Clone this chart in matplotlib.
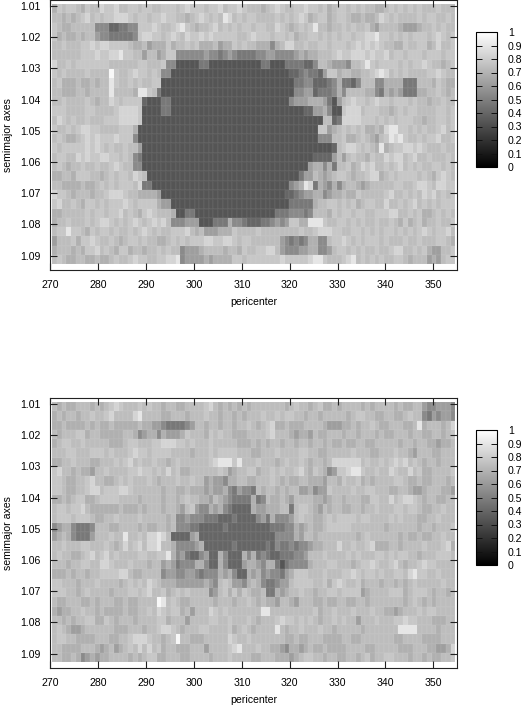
import numpy as np
import matplotlib
matplotlib.use("Agg")
import matplotlib.pyplot as plt

# Grey level of each cell: one hex digit per cell,
# rows from semimajor axis 1.009 downward, columns from pericenter 270 to 354.
upper_rows = [
"acbcc bacbb dccdb bccbc cbbcc cbcdc ccbcc dbccd cbbba bcdcb bccdc cbcab ccbcb cbbaa bcbcb cbcbb bcbbb",
"bbaba bcdbc bccdd dcbcc bccdc cbbab cdcbc bedbc bccbb bbcbc bcdca bccab ccbaa baabd cbcbb bbcbc cbbcb",
"cbaab bbbb8 88667 788cc cdcbb cdecb abbcd bcbcb ccbcc bbdcb abcbc ebbab bcbcb bca9b bbba9 99abb cbcbb",
"cabaa babb9 88777 778cd dccbc dcbdc cdcdc ccccb bcdcc cbccb cabbc cbcbc bccbc cddec cbcbc bcccb cdcbc",
"bbcbb bccdc ddccc cbaab 9aaac abbcb caaab 9aacb cbbaa a8abd dbbcb bccbc ccbcd cdcdc bbaac bbcca bdbbc",
"bbbbb bcccd ccdde ccbb9 bb9ac c8888 88988 78987 77788 99888 89a9a abbbc dccdd dcdcc dbccb cccbc ccbcc",
"dbbcb ccccc ccbbb bbbcc bbbc8 85555 57755 55555 55557 75557 77766 8bba9 998bb cecbc cccbc bccdc bbabc",
"cbcbb bbcbb bbfcb bcdcc bcb88 55555 55555 55555 55555 55555 66787 769cc abbaa bbcde dbcbc bbbbc cdcbb",
"bcaaa baaba bbecb bcbcb bcc55 55555 55555 55555 55555 55555 57788 66678 a7768 bbb88 aaaa7 77bbb acbaa",
"bbaaa bbabb bbebb bbaee cb755 55555 55555 55555 55555 55555 58899 67778 a8bbb baa87 a9a97 77aab bcbab",
"bbcbb bbcba bbdcb cccc6 55577 55555 55555 55555 55555 55555 8999a aa975 9bcdc cbcdc cbccc bcbba bbcbb",
"cccbb bbccb bbbcd dddc5 55577 55555 55555 55555 55555 55555 55566 99a85 5cddd bcccb babcb ccbbb bccbc",
"bdcbc bbcbb bcccd dddc5 55555 55555 55555 55555 55555 55555 55555 55bb6 7dddd cccbc bcbcc cbbab bccbc",
"cbbcb cddcc bbbbc cca55 55555 55555 55555 55555 55555 55555 55555 5cc9a bcbcb caaba deecc bcbcb bcdbc",
"bcbaa bcdcd cccdc cc855 55555 55555 55555 55555 55555 55555 55555 5888b bcaab cba9b cedec bbcbc cdbbc",
"cbccc ccdcd cbcbb cbb95 55555 55555 55555 55555 55555 55555 55555 55556 bcddc bcbae abccd dcdcb bbcbb",
"bccbb dcdcc ddccb cb875 55555 55555 55555 55555 55555 55555 55555 66669 b9bcb bacbb dcddb cdbbc bbbcb",
"bcbab bcbbc bbcdc bb885 55555 55555 55555 55555 55555 55555 55559 aa8a7 bbcab dcdbb cbcdb cbcbb ccbcb",
"aabba cccbb abcbc cbdcb 55555 55555 55555 55555 55555 55555 55799 ba9ab ccbab bcdda bcbcc ccbcb acdcb",
"bbaaa abaab cbcbc ccbd7 75555 55555 55555 55555 55555 55555 89aed 7a98a 8abba 9abbb bbccb bcddc bddcc",
"dccba bbbab bcddd cbbaa aa955 55555 55555 55555 55555 55556 67899 aa89a abaac bbbbb cdbbc bcbdc dbcbc",
"cdbbc baccb cbccc dcbcc cca99 55555 55555 55555 55555 55555 77777 abbcc bcbca bccbb dbbcb cdbcb cbccc",
"aabbb bbcbc cbccd bcbac dcbbb a5577 55555 55555 55555 55777 88878 bbbac bccbc cbbcc cddbb cbcaa bcbcb",
"abbcb bbcbc ddcbc bcdcb cdcdb 88899 95557 77a88 76667 78989 ccaae eecbb ccbcb cbbcb bcbac abcab bcbbc",
"bccec cbacb ccbcb bcbcd cbcbb cccdb ab999 aaacb bbbcb bbbbb bbcbb cdddc cbbcc bcbcb ccbcb cbcdc bccdb",
"9bbbc accdc bbcba bccbc bbaab cbcbc ccddc cddcb ccbbb bbb98 7878a a88bc cdcbc bcccb cbbbc bbcbb bccba",
"abbba baccd bcbac cabba bbcbc bb899 9abbb babba cbbcc ddb98 8899a a889b ccbcb cbbcb bcddb bcbca 99bbc",
"bcbaa bbaab aabcb bcdcc bbccd de899 99a9a aaacc bcccc cccdc ccccd eecbb bcdeb cbcbc bbccb abbb9 a9bcc",
]

lower_rows = [
"babaa bbbab abcdc bbbcb cbbab baabb bbcdb ababa babbb bbbba bcbba bcaab abbbb ababb bbaba abb98 89998",
"ababb abbcb bcdbb bbdeb bbbaa bbbab bbcbb abbab abbbc bbcbc cbbab babbb bbabc cbbaa bbaab cbb87 98998",
"aabaa aabab aabaa aaaba a9987 77789 bbabb abbab bcbab cdaab aaabb bba99 9aaba bbcba abbba abeab bbabd",
"babbb ccabb aaaaa bba89 aa8a9 99acb bbacb cbbaa abbbb cdbbb a9aa9 baabb babba bbbab aabbb abbaa bbabc",
"abccb bcbbb bbaaa bccbb bccdd dccbc bbbcb bbbba aabab abbab babba bbaba abaab baabb bbbab babba a9aab",
"bbbcc bbbcc cbcbb bcdcc bcccc bbbba bbbcb ccccb bbaab bbcbb bbccb baabb bbbcb bbaab bbcbb a9bbb aabbb",
"aabbc bbbaa bbbcb cdbcb bcbba bcbbb bbbcd eeece bbbcb bbabc bbcba bbabd ddddd bcbbc bcdcd bcbab babbb",
"cdbba baa9b bcbbb bccdc cbcbd bcaab bbbbb cb9ab bccab bcbcb bcdba cba89 ccdee cbbcb bdcbb dbcaa bbbbc",
"ccbaa bbcdb baabc bcbbb cbabb bcbbc bb9a9 98aab baabb bcbab aabba aa9bb acbbc ababb bbccb aabaa bbbab",
"ccbaa bbcdd bcccd dcbbb bbbab baaba aa9a9 9a879 887ba bbaba bb99a 899cb bbbcb bccbb baabb a99ab bbaa9",
"aabab ccaab ccccb bbbab bbbab babcb baa9b a9877 77a78 baaba 9bbbb aa9ab babbb aaccb bdbcd dcbab baabb",
"bccbc cdbaa aaaab aaaba bbbab ba9bc 988a9 a8766 66a99 aaabb 7bccb a9bab baabb abbcb bbccb ccbaa bbcbb",
"bcccb cccba abbcb bbbcb bbbba b8898 88777 66676 66689 7a888 9bcbb aabcb ccccb ccbbb bcbcb bbaab bcbbb",
"89aa8 7778b bbaab bbbab aabba b8887 76666 67666 66666 67778 8a9ab aabcc cccbb bbbbb abbbb bbabb abbbc",
"9aba8 7779b bbcbb ebbcb ddedb 66669 a6666 66666 66666 66888 8a9bb abbbb bbbba bcbbb bbbab aabaa bbcbb",
"bbcbb bccbb bcbab dbcdb ddebb a8888 9a666 66676 66666 76877 87889 aabbb dbbcb bcdaa abbab bbbcb bbcda",
"bcbba abcdb cdbcb bbbcc bbcce a8976 68966 a8666 a8a78 76677 7889b bbcbb bbcbc bbbcc bcbcc bbabb bcccb",
"bbbab bccbb ddcbb bcbbb abb9a 97888 aa866 a8666 9aa98 aa757 8888a bbbcc bbbab ccdcb bcdba bbcdc cbbbb",
"aaaba bbabb ccccd dbaab bbb89 98899 87888 a9a86 6a9a8 98879 acccb bbcbb bccdc bccbc bbccb deccb bcbbb",
"ccbbb abbbc bbbba bcbcb dcbaa a9999 99a98 bcb99 8aba8 77899 bcccc bbcac dcbbc abbba bbaba bcbbb bbcbb",
"cccbb abcbb bbabb bccbc dbbca bcbcb bbb89 bcaca cbaab 77a9a bbcbb abbcc bcccc 9abbb bccca bcccb abbab",
"baabb baaba bbbaa baabb bbfeb cbaab bbbba bbbab bcbab aa9bb a9bbb aabaa bbaab babbb bbbba bcbab abbbb",
"a9aab bcbba baaaa baabb cbdcb ccab9 bbbdc bcbbb bbbbe ebbbb bbbbb cabbc bbbcb bbcbb aa9ab bbcbc cbbbb",
"bbaba bbcca acbab bbabb bbcca bbb9b bbbcc bbcbb bcbab bbcdc cbcbc babbc bcbb9 bbbcb bbccd ccbbb aaabb",
"bcba9 9abbb bbbaa abbba bbcdd cbabb bccbb bbcab cbabb bbeba bbcbb bcbba bbbbb abbbb bbbee eebbb babbb",
"bccbb aaaab bbaab bcddd cbbab cfbba aabbb bbdcb bcbbb bbbba abaab bbaaa abbaa bbbbb bbaab bbbaa aabbb",
"bbaaa abbba 9ab9a bcbdb dbcab baaab bb9bb bbcde bbbcb baa98 aa9ab aabaa aabbb baabb bbbaa abbba a99ad",
"bbaab a89a9 aabbb babab ccaab bbaab bbbab bbcbb bbaab bbaaa 9abcc bbabb aabba bcabb ccbbb abbab aabbc",
]

# Grey value meant by each digit
digit_levels = {"5": 0.335, "6": 0.40, "7": 0.47, "8": 0.54, "9": 0.62, "a": 0.69,
                "b": 0.74, "c": 0.78, "d": 0.83, "e": 0.90, "f": 0.97}

x_ticks = [270, 280, 290, 300, 310, 320, 330, 340, 350]
y_ticks = [1.01, 1.02, 1.03, 1.04, 1.05, 1.06, 1.07, 1.08, 1.09]
bar_ticks = [0, 0.1, 0.2, 0.3, 0.4, 0.5, 0.6, 0.7, 0.8, 0.9, 1]


def to_grid(rows):
    return np.array([[digit_levels[c] for c in r.replace(" ", "")] for r in rows])


W, H = 523, 707
plt.rcParams["font.family"] = ["Liberation Sans", "DejaVu Sans"]
plt.rcParams["font.size"] = 7.6
fig = plt.figure(figsize=(W / 100, H / 100), dpi=100)


def px_axes(l, t, r, b):
    return fig.add_axes([l / W, 1 - b / H, (r - l) / W, (b - t) / H])


def panel(rows, top, bar_top, bar_bottom):
    ax = px_axes(50.3, top, 457.3, top + 270)
    z = to_grid(rows)
    xe = np.linspace(270.4, 354.6, z.shape[1] + 1)
    ye = np.linspace(1.00936, 1.0928, z.shape[0] + 1)
    m = ax.pcolormesh(xe, ye, z, cmap="gray", vmin=0, vmax=1, shading="flat",
                      edgecolors=(1, 1, 1, 0.03), linewidth=0.3)
    ax.set_xlim(270, 355)
    ax.set_ylim(1.09462, 1.00808)
    ax.set_xticks(x_ticks)
    ax.set_yticks(y_ticks)
    ax.set_yticklabels([f"{v:.2f}" for v in y_ticks])
    ax.tick_params(direction="in", length=5, width=0.8, top=True, right=True,
                   color="#222222", labelcolor="black", pad=7)
    for s in ax.spines.values():
        s.set_linewidth(0.8)
        s.set_color("#222222")
    ax.set_xlabel("pericenter")
    ax.xaxis.set_label_coords(0.5, -27 / 270)
    ax.set_ylabel("semimajor axes")
    ax.yaxis.set_label_coords(-37 / 407, 0.5)

    cax = px_axes(475.7, bar_top, 497, bar_bottom)
    cb = fig.colorbar(m, cax=cax)
    cb.set_ticks(bar_ticks)
    cb.set_ticklabels([f"{v:g}" for v in bar_ticks])
    cax.tick_params(direction="in", length=4.3, width=0.7, left=True, right=True,
                    color="#111111", pad=8)
    cb.outline.set_linewidth(0.8)
    return ax


panel(upper_rows, 0, 32, 167)
panel(lower_rows, 398, 430, 565)

fig.savefig("out.png", dpi=100)
